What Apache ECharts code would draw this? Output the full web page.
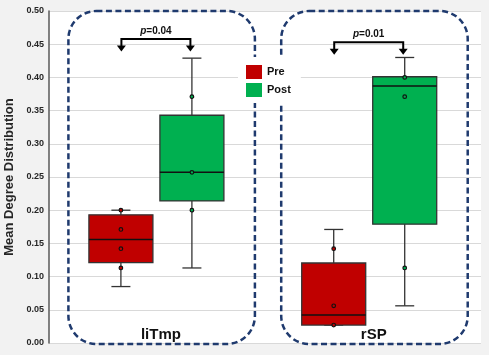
<!DOCTYPE html>
<html>
<head>
<meta charset="utf-8">
<script src="https://cdn.jsdelivr.net/npm/echarts@6/dist/echarts.min.js"></script>
<style>html,body{margin:0;padding:0;background:#f2f2f2;}#c{width:489px;height:355px;}</style>
</head>
<body>
<div id="c"></div>
<script>
// ---- data ----
const categories = ['liTmp', 'rSP'];
// [min, q1, median, q3, max]
const preBox  = [[0.085, 0.121, 0.156, 0.193, 0.200], [0.027, 0.027, 0.042, 0.1205, 0.171]];
const postBox = [[0.113, 0.214, 0.257, 0.343, 0.429], [0.056, 0.179, 0.387, 0.401, 0.430]];
const prePoints  = [[0.200, 0.171, 0.142, 0.113], [0.142, 0.056, 0.027]];
const postPoints = [[0.371, 0.257, 0.200], [0.400, 0.371, 0.113]];
const pValues = ['0.04', '0.01'];
const bracketLevels = [0.458, 0.453];
const seriesNames = ['Pre', 'Post'];
const yTitle = 'Mean Degree Distribution';

// ---- styling ----
const FONT = 'Liberation Sans, Arial, sans-serif';
const RED = '#c00000', GREEN = '#00b050';
const PRE_OFF = -34.5, POST_OFF = 36.5, BOX_W = 64, CAP_HALF = 9.5;

function boxRenderer(offset, fill) {
  return function (params, api) {
    const ci = api.value(0);
    const x = api.coord([ci, 0])[0] + offset;
    const y = k => api.coord([ci, api.value(k)])[1];
    const yMin = y(1), yQ1 = y(2), yMed = y(3), yQ3 = y(4), yMax = y(5);
    const stroke = { stroke: '#333', lineWidth: 1.3 };
    return {
      type: 'group',
      children: [
        { type: 'line', shape: { x1: x, y1: yMin, x2: x, y2: yMax }, style: stroke },
        { type: 'line', shape: { x1: x - CAP_HALF, y1: yMin, x2: x + CAP_HALF, y2: yMin }, style: stroke },
        { type: 'line', shape: { x1: x - CAP_HALF, y1: yMax, x2: x + CAP_HALF, y2: yMax }, style: stroke },
        { type: 'rect', shape: { x: x - BOX_W / 2, y: yQ3, width: BOX_W, height: yQ1 - yQ3 },
          style: { fill: fill, stroke: '#333', lineWidth: 1.3 } },
        { type: 'line', shape: { x1: x - BOX_W / 2, y1: yMed, x2: x + BOX_W / 2, y2: yMed },
          style: { stroke: '#111', lineWidth: 1.5 } }
      ]
    };
  };
}
function pointRenderer(offset, fill) {
  return function (params, api) {
    const c = api.coord([api.value(0), api.value(1)]);
    return { type: 'circle', shape: { cx: c[0] + offset, cy: c[1], r: 1.8 },
      style: { fill: fill, stroke: '#111', lineWidth: 1.2 } };
  };
}
function frameRenderer(params, api) {
  const ci = api.value(0);
  const level = api.value(1);
  const cx = api.coord([ci, 0])[0];
  const yTop = api.coord([ci, 0.5])[1];
  const yBot = api.coord([ci, 0])[1] + 1;
  const left = cx - 87, right = cx + 99.5;
  const yLine = api.coord([ci, level])[1];
  const yTip = api.coord([ci, level - 0.019])[1];
  const xa = cx + PRE_OFF + 0.5, xb = cx + POST_OFF - 1.5;
  const bs = { fill: 'none', stroke: '#000', lineWidth: 2 };
  const arrow = xx => ({ type: 'polygon', shape: { points: [[xx - 4.5, yTip - 6], [xx + 4.5, yTip - 6], [xx, yTip]] }, style: { fill: '#000' } });
  return {
    type: 'group',
    children: [
      { type: 'rect', shape: { x: left, y: yTop, width: right - left, height: yBot - yTop, r: 28 },
        style: { fill: 'none', stroke: '#1f3a6e', lineWidth: 2.5, lineDash: [6, 3.5] } },
      { type: 'text', x: cx + 5.5, y: yBot - 9,
        style: { text: categories[ci], font: 'bold 15px ' + FONT, fill: '#111', align: 'center', verticalAlign: 'middle' } },
      { type: 'polyline', shape: { points: [[xa, yTip - 5], [xa, yLine], [xb, yLine], [xb, yTip - 5]] }, style: bs },
      arrow(xa), arrow(xb),
      { type: 'text', x: (xa + xb) / 2, y: yLine - 8,
        style: { text: '{i|p}=' + pValues[ci], font: 'bold 10px ' + FONT, fill: '#111', align: 'center', verticalAlign: 'middle',
          rich: { i: { fontStyle: 'italic', fontWeight: 'bold', fontSize: 10, fontFamily: FONT, fill: '#111' } } } }
    ]
  };
}

const chart = echarts.init(document.getElementById('c'), null, { renderer: 'canvas' });
chart.setOption({
  backgroundColor: '#f2f2f2',
  animation: false,
  grid: { left: 49, right: 8, top: 11, bottom: 12, show: true, backgroundColor: '#ffffff', borderWidth: 0,
    containLabel: false, outerBoundsMode: 'none' },
  legend: {
    data: seriesNames, orient: 'vertical', left: 238, top: 57, icon: 'rect',
    itemWidth: 16, itemHeight: 14, itemGap: 4, backgroundColor: '#ffffff', padding: [8, 10, 6, 8],
    textStyle: { fontFamily: FONT, fontWeight: 'bold', fontSize: 11, color: '#111' }
  },
  xAxis: { type: 'value', min: -0.5, max: 1.53, show: false },
  yAxis: {
    type: 'value', min: 0, max: 0.5, interval: 0.05,
    name: yTitle, nameLocation: 'middle', nameGap: 29,
    nameTextStyle: { fontFamily: FONT, fontWeight: 'bold', fontSize: 13, color: '#262626' },
    axisLine: { show: true, onZero: false, lineStyle: { color: '#595959', width: 1.5 } },
    axisTick: { show: false },
    axisLabel: { margin: 5, fontFamily: FONT, fontWeight: 'bold', fontSize: 9, color: '#262626', formatter: v => v.toFixed(2) },
    splitLine: { show: true, lineStyle: { color: '#d9d9d9', width: 1 } }
  },
  series: [
    { type: 'custom', name: 'frame', z: 1, renderItem: frameRenderer,
      data: bracketLevels.map((l, i) => [i, l]), encode: { x: 0, y: 1 } },
    { type: 'custom', name: 'Pre', z: 2, itemStyle: { color: RED }, renderItem: boxRenderer(PRE_OFF, RED),
      data: preBox.map((b, i) => [i].concat(b)), encode: { x: 0, y: [1, 2, 3, 4, 5] } },
    { type: 'custom', name: 'Post', z: 2, itemStyle: { color: GREEN }, renderItem: boxRenderer(POST_OFF, GREEN),
      data: postBox.map((b, i) => [i].concat(b)), encode: { x: 0, y: [1, 2, 3, 4, 5] } },
    { type: 'custom', name: 'prePts', z: 3, renderItem: pointRenderer(PRE_OFF, RED),
      data: prePoints.flatMap((arr, i) => arr.map(v => [i, v])), encode: { x: 0, y: 1 } },
    { type: 'custom', name: 'postPts', z: 3, renderItem: pointRenderer(POST_OFF, GREEN),
      data: postPoints.flatMap((arr, i) => arr.map(v => [i, v])), encode: { x: 0, y: 1 } }
  ]
});
</script>
</body>
</html>
